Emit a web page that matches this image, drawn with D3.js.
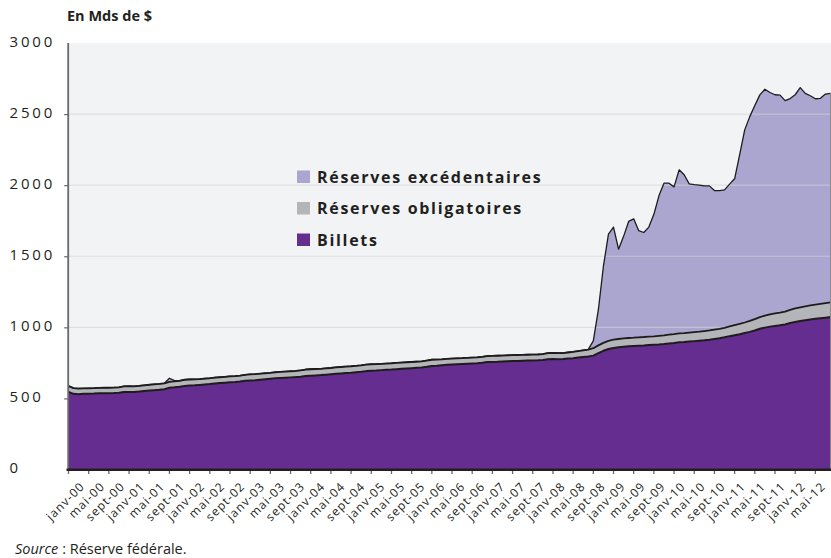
<!DOCTYPE html>
<html><head><meta charset="utf-8">
<script src="https://cdn.jsdelivr.net/npm/d3@7/dist/d3.min.js"></script>
<style>
body{margin:0;background:#fff}
svg{display:block}
text{font-family:'Open Sans',sans-serif;fill:#231f20}
</style>
</head><body>
<svg id="c" width="831" height="558"></svg>
<script>
// Monthly data, janv-00 .. août-12 (Mds de $)
const billets = [
  545, 532, 530, 532, 533, 534, 536, 537, 537, 538, 540, 545,
  546, 545, 548, 552, 555, 558, 561, 565, 575, 578, 582, 588,
  590, 592, 595, 598, 601, 605, 608, 611, 614, 616, 619, 624,
  626, 628, 632, 635, 638, 641, 644, 646, 648, 650, 653, 658,
  660, 662, 664, 667, 670, 673, 676, 679, 681, 684, 687, 692,
  694, 696, 699, 701, 703, 706, 709, 711, 713, 715, 717, 722,
  728, 730, 733, 736, 738, 740, 742, 744, 746, 748, 751, 756,
  757, 758, 760, 762, 763, 764, 765, 766, 767, 768, 770, 776,
  777, 776, 777, 780, 783, 788, 792, 795, 801, 818, 835, 848,
  855, 860, 864, 867, 869, 871, 873, 876, 878, 880, 883, 887,
  890, 895, 897, 900, 903, 906, 909, 913, 918, 923, 930, 938,
  945, 952, 960, 968, 978, 990, 998, 1005, 1010, 1014, 1020, 1030,
  1038, 1045, 1050, 1055, 1060, 1064, 1068, 1072
];
const obligatoires = [
  42, 40, 39, 38, 38, 38, 38, 38, 38, 38, 38, 39,
  40, 40, 40, 40, 41, 41, 41, 41, 42, 42, 42, 43,
  43, 42, 41, 41, 41, 41, 41, 41, 41, 41, 41, 42,
  43, 43, 42, 42, 42, 43, 43, 43, 43, 43, 44, 45,
  45, 45, 44, 44, 44, 45, 45, 45, 45, 45, 45, 46,
  46, 45, 44, 44, 44, 44, 43, 43, 43, 43, 43, 44,
  44, 43, 42, 42, 42, 42, 41, 41, 41, 41, 41, 42,
  42, 42, 41, 41, 41, 41, 41, 41, 41, 41, 42, 43,
  43, 42, 42, 43, 44, 45, 46, 48, 52, 55, 56, 57,
  58, 58, 58, 58, 58, 59, 59, 59, 59, 60, 60, 61,
  62, 62, 62, 63, 64, 64, 65, 65, 66, 66, 67, 68,
  70, 72, 74, 77, 80, 82, 84, 86, 88, 90, 91, 93,
  95, 96, 98, 99, 100, 101, 102, 103
];
const excedentaires = [
  2, 1, 1, 1, 1, 1, 1, 1, 1, 1, 1, 2,
  1, 1, 1, 1, 1, 1, 1, 1, 25, 5, 1, 2,
  2, 1, 1, 1, 1, 1, 1, 1, 1, 1, 1, 2,
  2, 1, 1, 1, 1, 1, 1, 1, 1, 1, 1, 2,
  2, 2, 2, 2, 2, 2, 2, 2, 2, 2, 2, 2,
  2, 2, 2, 2, 2, 2, 2, 2, 2, 2, 2, 2,
  2, 2, 2, 2, 2, 2, 2, 2, 2, 2, 2, 2,
  2, 2, 2, 2, 2, 2, 2, 2, 2, 2, 2, 2,
  2, 2, 2, 2, 2, 2, 2, 2, 52, 251, 539, 750,
  792, 632, 718, 820, 836, 750, 735, 770, 858, 985, 1071, 1066,
  1036, 1151, 1114, 1046, 1037, 1030, 1021, 1017, 978, 973, 970, 1001,
  1030, 1191, 1355, 1437, 1502, 1563, 1593, 1561, 1538, 1529, 1484, 1486,
  1503, 1545, 1498, 1475, 1448, 1446, 1471, 1471
];
const moisNoms = ["janv","févr","mars","avr","mai","juin","juil","août","sept","oct","nov","déc"];
const tickLabels = [
  "janv-00","mai-00","sept-00","janv-01","mai-01","sept-01","janv-02","mai-02","sept-02",
  "janv-03","mai-03","sept-03","janv-04","mai-04","sept-04","janv-05","mai-05","sept-05",
  "janv-06","mai-06","sept-06","janv-07","mai-07","sept-07","janv-08","mai-08","sept-08",
  "janv-09","mai-09","sept-09","janv-10","mai-10","sept-10","janv-11","mai-11","sept-11",
  "janv-12","mai-12"
];
const yTicks = [0, 500, 1000, 1500, 2000, 2500, 3000];
const series = [
  {key: "billets", name: "Billets", color: "#662d91"},
  {key: "obligatoires", name: "Réserves obligatoires", color: "#b4b5b8"},
  {key: "excedentaires", name: "Réserves excédentaires", color: "#aba6cf"}
];

const categories = billets.map((_, i) => moisNoms[i % 12] + "-" + String(Math.floor(i / 12)).padStart(2, "0"));
const table = categories.map((c, i) => ({i, cat: c, billets: billets[i], obligatoires: obligatoires[i], excedentaires: excedentaires[i]}));
const stacked = d3.stack().keys(series.map(s => s.key))(table);

const svg = d3.select("#c");
const x = d3.scaleLinear().domain([0, billets.length - 1]).range([68.5, 830.5]);
const y = d3.scaleLinear().domain([0, 3000]).range([469.5, 43]);

// plot background
svg.append("rect").attr("x", 69).attr("y", y(3000)).attr("width", 831 - 69).attr("height", y(0) - y(3000)).attr("fill", "#f2f3f5");

const area = d3.area().x(d => x(d.data.i)).y0(d => y(d[0])).y1(d => y(d[1]));
const topLine = d3.line().x(d => x(d.data.i)).y(d => y(d[1]));

// excess reserves area (below grid)
svg.append("path").datum(stacked[2]).attr("d", area).attr("fill", series[2].color);

// gridlines
svg.append("g").selectAll("line").data(yTicks.filter(t => t > 0 && t < 3000)).join("line")
  .attr("x1", 69).attr("x2", 831).attr("y1", d => y(d)).attr("y2", d => y(d))
  .attr("stroke", "#d3d3d7").attr("stroke-width", 1.2).attr("opacity", 0.6);

// required + billets areas
svg.append("path").datum(stacked[1]).attr("d", area).attr("fill", series[1].color);
svg.append("path").datum(stacked[0]).attr("d", area).attr("fill", series[0].color);

// top lines
svg.append("path").datum(stacked[2]).attr("d", topLine).attr("fill", "none").attr("stroke", "#1e1b1c").attr("stroke-width", 1.3).attr("stroke-linejoin", "round");
svg.append("path").datum(stacked[1]).attr("d", topLine).attr("fill", "none").attr("stroke", "#1e1b1c").attr("stroke-width", 1.8).attr("stroke-linejoin", "round");
svg.append("path").datum(stacked[0]).attr("d", topLine).attr("fill", "none").attr("stroke", "#1e1b1c").attr("stroke-width", 2).attr("stroke-linejoin", "round");

// right edge
const last = table.length - 1;
svg.append("line").attr("x1", x(last)).attr("x2", x(last))
  .attr("y1", y(stacked[2][last][1])).attr("y2", y(0))
  .attr("stroke", "#8a8a8e").attr("stroke-width", 1);

// Y axis
const yAxis = d3.axisLeft(y).tickValues(yTicks.filter(t => t > 0 && t < 3000)).tickSize(4).tickFormat("");
const gy = svg.append("g").attr("transform", "translate(68.2,0)").call(yAxis);
gy.select(".domain").remove();
gy.selectAll(".tick line").attr("stroke", "#666").attr("stroke-width", 1.2);
svg.append("line").attr("x1", 68.2).attr("x2", 68.2).attr("y1", y(3000)).attr("y2", y(0))
  .attr("stroke", "#6a6a6a").attr("stroke-width", 1.8);
svg.append("g").selectAll("text").data(yTicks).join("text")
  .attr("x", 9.5).attr("y", d => y(d) + 3.5)
  .attr("font-size", 15).attr("letter-spacing", 2.8)
  .text(d => d);

// X axis
const tickIdx = tickLabels.map((_, k) => 4 * k).filter(i => i <= last);
svg.append("g").selectAll("line").data(tickIdx).join("line")
  .attr("x1", d => x(d)).attr("x2", d => x(d)).attr("y1", 470).attr("y2", 474)
  .attr("stroke", "#6a6a6a").attr("stroke-width", 1.3);
svg.append("line").attr("x1", 66.5).attr("x2", 831).attr("y1", 469.8).attr("y2", 469.8)
  .attr("stroke", "#231f20").attr("stroke-width", 2.6);
const labelX = d3.scaleLinear().domain([0, tickLabels.length - 1]).range([x(0) + 17, x(148) + 11]);
svg.append("g").selectAll("text").data(tickLabels).join("text")
  .attr("transform", (d, k) => `translate(${labelX(k)},487) rotate(-45)`)
  .attr("text-anchor", "end").attr("font-size", 12).attr("letter-spacing", 1.1)
  .text(d => d);

// Title
svg.append("text").attr("x", 67).attr("y", 20.5).attr("font-size", 14.5).attr("font-weight", "bold").text("En Mds de $");

// Legend
const legendOrder = [series[2], series[1], series[0]];
const lg = svg.append("g").selectAll("g").data(legendOrder).join("g")
  .attr("transform", (d, k) => `translate(297,${182.5 + k * 31.5})`);
lg.append("rect").attr("x", 0).attr("y", -12).attr("width", 13).attr("height", 12.5).attr("fill", d => d.color);
lg.append("text").attr("x", 20).attr("y", 0).attr("font-size", 16).attr("font-weight", "bold").attr("letter-spacing", 1.7).text(d => d.name);

// Source
const src = svg.append("text").attr("x", 15).attr("y", 553.5).attr("font-size", 14.5);
src.append("tspan").attr("font-style", "italic").text("Source");
src.append("tspan").text(" : Réserve fédérale.");
</script>
</body></html>
